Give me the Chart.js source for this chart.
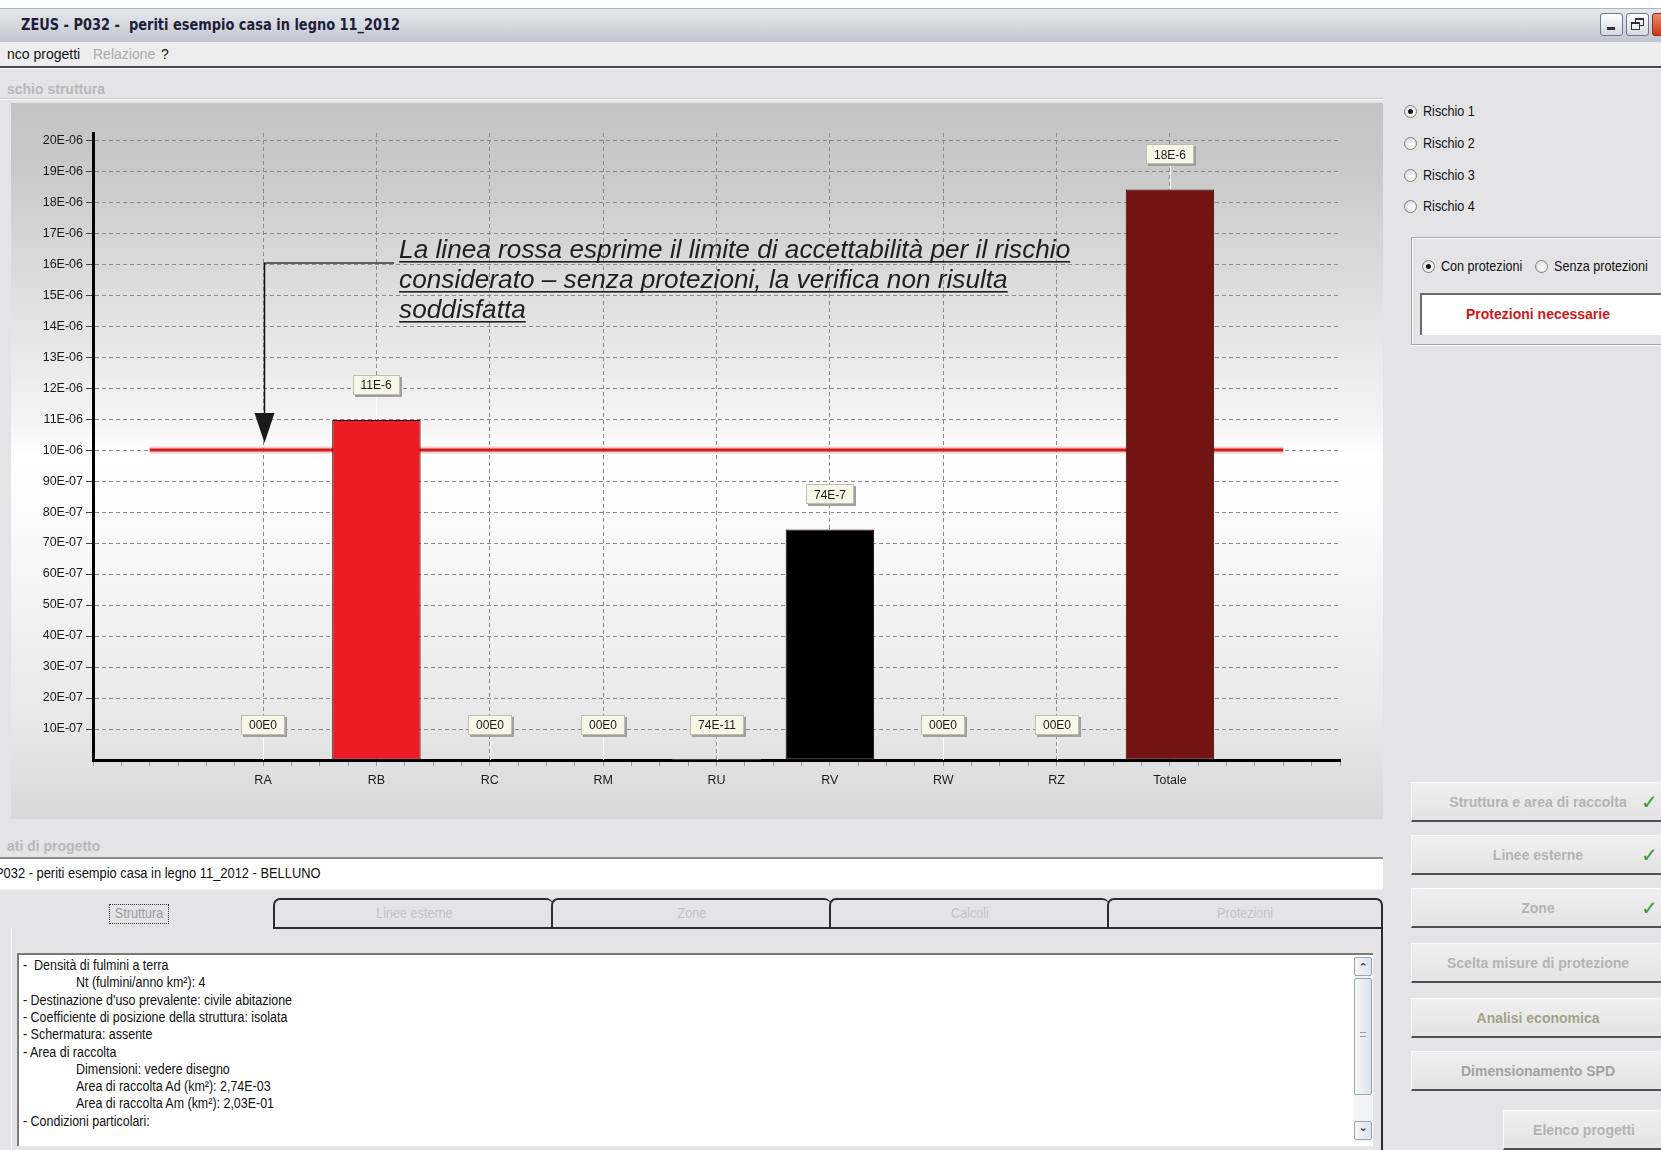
<!DOCTYPE html>
<html><head><meta charset="utf-8">
<script src="https://cdn.jsdelivr.net/npm/chart.js@4.4.1/dist/chart.umd.min.js"></script>
<style>
*{box-sizing:border-box}
html,body{margin:0;padding:0}
body{width:1661px;height:1150px;overflow:hidden;position:relative;background:#e4e4e7;font-family:'Liberation Sans',Arial,sans-serif;color:#111;font-size:14px}
.a{position:absolute;white-space:pre}
.nx{transform:scaleX(0.89);transform-origin:0 50%}
.nc{transform:scaleX(0.9);transform-origin:50% 50%}
#topstrip{left:0;top:0;width:1661px;height:8px;background:#fff}
#titlebar{left:0;top:8px;width:1661px;height:34px;background:linear-gradient(#e6e8ed,#d5d8df 50%,#c0c4cd);border-top:1px solid #b0b3bb}
#title{left:21px;top:8px;height:34px;font:bold 15px 'DejaVu Sans Condensed','DejaVu Sans',sans-serif;line-height:34px;color:#1e1e38;transform:scaleX(0.96);transform-origin:0 50%}
.wbtn{top:13px;width:23px;height:23px;border:1px solid #6f7a8a;border-radius:3px;background:linear-gradient(#ffffff,#d3d8e3)}
#menubar{left:0;top:42px;width:1661px;height:24px;background:#ededed}
.menu{top:45px;line-height:18px;font-size:14px}
#darkline{left:0;top:66px;width:1661px;height:2px;background:#4a4a4a}
.glabel{color:#b8b8b8;font-size:14px;font-weight:bold;line-height:18px}
#chartbox{left:11px;top:103px;width:1372px;height:716px}
.radio{width:13px;height:13px;border-radius:50%;border:1px solid #808080;background:radial-gradient(circle at 60% 60%,#ffffff 0%,#e6e6e6 60%,#cfcfcf 100%)}
.radio.on::after{content:'';position:absolute;left:3px;top:3px;width:5px;height:5px;border-radius:50%;background:#111}
.rtext{line-height:18px;font-size:14px;color:#111;transform:scaleX(0.9);transform-origin:0 50%}
.btn{left:1411px;width:260px;height:40px;background:linear-gradient(#f0f0f0,#e3e3e3);border-top:1px solid #fbfbfb;border-left:1px solid #fbfbfb;border-bottom:2px solid #4f4f4f}
.btnt{left:0;top:0;width:252px;height:38px;line-height:38px;text-align:center;font-weight:bold;font-size:14px}
.chk{left:229px;top:0;font:20px 'DejaVu Sans',sans-serif;line-height:38px;color:#3c9a3c}
.tab{top:898px;height:31px;border-top:2px solid #2c2c2c;border-left:2px solid #2c2c2c;border-bottom:2px solid #2c2c2c;border-radius:7px 7px 0 0;text-align:center;line-height:26px;color:#c2c2c2;font-size:14px}
.txt{line-height:17.3px;font-size:14px;color:#111}
</style></head>
<body>
<div class="a" id="topstrip"></div>
<div class="a" id="titlebar"></div>
<div class="a" id="title">ZEUS - P032 -  periti esempio casa in legno 11_2012</div>
<div class="a wbtn" style="left:1600px"><div class="a" style="left:6px;top:13px;width:8px;height:3px;background:#333"></div></div>
<div class="a wbtn" style="left:1626px"><div class="a" style="left:8px;top:4px;width:9px;height:8px;border:1px solid #333;border-top-width:2px"></div><div class="a" style="left:4px;top:8px;width:9px;height:8px;border:1px solid #333;border-top-width:2px;background:#eef0f5"></div></div>
<div class="a" style="left:1652px;top:13px;width:23px;height:23px;border-radius:3px;background:linear-gradient(#e88a6e,#c9381c);border:1px solid #8a2a18"></div>
<div class="a" id="menubar"></div>
<div class="a menu" style="left:7px">nco progetti</div>
<div class="a menu" style="left:93px;color:#ababab">Relazione</div>
<div class="a menu" style="left:161px">?</div>
<div class="a" id="darkline"></div>
<div class="a" style="left:0;top:68px;width:1661px;height:1px;background:#fafafa"></div>
<div class="a glabel" style="left:7px;top:80px">schio struttura</div>
<div class="a" style="left:0;top:98px;width:1383px;height:1px;background:#c9c9c9"></div>
<div class="a" style="left:0;top:99px;width:1383px;height:1px;background:#fbfbfb"></div>
<div class="a" id="chartbox"><canvas id="c" width="1372" height="716"></canvas></div>

<!-- right panel -->
<div class="a radio on" style="left:1404px;top:105px"></div><div class="a rtext" style="left:1423px;top:102px">Rischio 1</div>
<div class="a radio" style="left:1404px;top:137px"></div><div class="a rtext" style="left:1423px;top:134px">Rischio 2</div>
<div class="a radio" style="left:1404px;top:169px"></div><div class="a rtext" style="left:1423px;top:166px">Rischio 3</div>
<div class="a radio" style="left:1404px;top:200px"></div><div class="a rtext" style="left:1423px;top:197px">Rischio 4</div>
<div class="a" style="left:1411px;top:237px;width:260px;height:108px;border-top:1px solid #a8a8a8;border-left:1px solid #a8a8a8;border-bottom:1px solid #a8a8a8;box-shadow:inset 1px 1px 0 #fff, 0 1px 0 #fff"></div>
<div class="a radio on" style="left:1422px;top:260px"></div><div class="a rtext" style="left:1441px;top:257px">Con protezioni</div>
<div class="a radio" style="left:1535px;top:260px"></div><div class="a rtext" style="left:1554px;top:257px">Senza protezioni</div>
<div class="a" style="left:1420px;top:293px;width:250px;height:42px;background:#fff;border-top:2px solid #6a6a6a;border-left:2px solid #6a6a6a"></div>
<div class="a" style="left:1422px;top:295px;width:232px;height:38px;line-height:38px;text-align:center;color:#d01818;font-weight:bold;font-size:14px">Protezioni necessarie</div>

<div class="a btn" style="top:782px"><div class="a btnt" style="color:#b4b4b4">Struttura e area di raccolta</div><div class="a chk">✓</div></div>
<div class="a btn" style="top:835px"><div class="a btnt" style="color:#b4b4b4">Linee esterne</div><div class="a chk">✓</div></div>
<div class="a btn" style="top:888px"><div class="a btnt" style="color:#b4b4b4">Zone</div><div class="a chk">✓</div></div>
<div class="a btn" style="top:943px"><div class="a btnt" style="color:#b4b4b4">Scelta misure di protezione</div></div>
<div class="a btn" style="top:998px"><div class="a btnt" style="color:#a3a38c">Analisi economica</div></div>
<div class="a btn" style="top:1051px"><div class="a btnt" style="color:#a2a2a2">Dimensionamento SPD</div></div>
<div class="a btn" style="left:1503px;top:1110px;width:170px"><div class="a btnt" style="width:160px;color:#b4b4b4">Elenco progetti</div></div>

<!-- bottom left -->
<div class="a glabel" style="left:7px;top:837px">ati di progetto</div>
<div class="a" style="left:0;top:857px;width:1383px;height:2px;background:#8c8c8c"></div>
<div class="a" style="left:0;top:859px;width:1383px;height:30px;background:#fff"></div>
<div class="a" style="left:-5px;top:864px;line-height:18px;font-size:14px;transform:scaleX(0.92);transform-origin:0 50%">P032 - periti esempio casa in legno 11_2012 - BELLUNO</div>
<div class="a" style="left:0;top:889px;width:1383px;height:1px;background:#f4f4f4"></div>

<div class="a" style="left:11px;top:928px;width:1372px;height:222px;border-right:2px solid #2c2c2c;border-left:1px solid #fafafa"></div>
<div class="a" style="left:109px;top:904px;width:60px;height:20px;border:1px dotted #333;"></div>
<div class="a nc" style="left:109px;top:904px;width:60px;height:20px;text-align:center;line-height:19px;color:#9c9c9c;font-size:14px">Struttura</div>
<div class="a tab" style="left:273px;width:280px"><span class="nc" style="display:inline-block">Linee esterne</span></div>
<div class="a tab" style="left:551px;width:280px"><span class="nc" style="display:inline-block">Zone</span></div>
<div class="a tab" style="left:829px;width:280px"><span class="nc" style="display:inline-block">Calcoli</span></div>
<div class="a tab" style="left:1107px;width:276px;border-right:2px solid #2c2c2c"><span class="nc" style="display:inline-block">Protezioni</span></div>

<div class="a" style="left:17px;top:953px;width:1356px;height:193px;background:#fff;border-top:2px solid #7a7a7a;border-left:2px solid #7a7a7a"></div>
<div class="a txt nx" style="left:23px;top:957px">-  Densità di fulmini a terra</div>
<div class="a txt nx" style="left:76px;top:974.3px">Nt (fulmini/anno km²): 4</div>
<div class="a txt nx" style="left:23px;top:991.6px">- Destinazione d'uso prevalente: civile abitazione</div>
<div class="a txt nx" style="left:23px;top:1008.9px">- Coefficiente di posizione della struttura: isolata</div>
<div class="a txt nx" style="left:23px;top:1026.2px">- Schermatura: assente</div>
<div class="a txt nx" style="left:23px;top:1043.5px">- Area di raccolta</div>
<div class="a txt nx" style="left:76px;top:1060.8px">Dimensioni: vedere disegno</div>
<div class="a txt nx" style="left:76px;top:1078.1px">Area di raccolta Ad (km²): 2,74E-03</div>
<div class="a txt nx" style="left:76px;top:1095.4px">Area di raccolta Am (km²): 2,03E-01</div>
<div class="a txt nx" style="left:23px;top:1112.7px">- Condizioni particolari:</div>
<!-- scrollbar -->
<div class="a" style="left:1354px;top:957px;width:18px;height:185px;background:#f3f4f6"></div>
<div class="a" style="left:1354px;top:957px;width:18px;height:19px;border:1px solid #9aa3b3;border-radius:2px;background:linear-gradient(90deg,#f4f6fa,#dde3ee);font:bold 11px 'DejaVu Sans';line-height:20px;text-align:center;color:#333">⌃</div>
<div class="a" style="left:1354px;top:978px;width:18px;height:117px;border:1px solid #9aa3b3;border-radius:2px;background:linear-gradient(90deg,#f6f8fb,#dbe1ec)"><div class="a" style="left:5px;top:53px;width:6px;height:5px;border-top:1px solid #99a;border-bottom:1px solid #99a"></div></div>
<div class="a" style="left:1354px;top:1121px;width:18px;height:19px;border:1px solid #9aa3b3;border-radius:2px;background:linear-gradient(90deg,#f4f6fa,#dde3ee);font:bold 11px 'DejaVu Sans';line-height:12px;text-align:center;color:#333">⌄</div>

<script>
// ---- data ----
const categories = ['RA', 'RB', 'RC', 'RM', 'RU', 'RV', 'RW', 'RZ', 'Totale'];
const riskValues = [0, 1.097e-5, 0, 0, 7.4e-10, 7.44e-6, 0, 0, 1.841e-5];
const valueLabels = ['00E0', '11E-6', '00E0', '00E0', '74E-11', '74E-7', '00E0', '00E0', '18E-6'];
const barColors = ['#ed1c24', '#ed1c24', '#888888', '#888888', '#888888', '#000000', '#888888', '#888888', '#741313'];
const yTickLabels = ['10E-07','20E-07','30E-07','40E-07','50E-07','60E-07','70E-07','80E-07','90E-07','10E-06',
                     '11E-06','12E-06','13E-06','14E-06','15E-06','16E-06','17E-06','18E-06','19E-06','20E-06'];
const limitValue = 1e-5;
const limitSpan = [-1, 9];
const noteLines = ['La linea rossa esprime il limite di accettabilità per il rischio',
                   'considerato – senza protezioni, la verifica non risulta',
                   'soddisfatta'];
const arrowCategory = 0;
const arrowFrom = 1.6e-5;
const arrowTo = 1.023e-5;
const noteStart = 1.2, noteEnd = 7.12, noteBaseline = 1.619e-5;

const UNIT = 1e-6;
const FONT = "'Liberation Sans', Arial, sans-serif";

const inCat = (v) => Number.isInteger(v) && v >= 0 && v < categories.length;

const bgPlugin = {
  id: 'bg',
  beforeDraw(chart) {
    const { ctx, width, height } = chart;
    const g = ctx.createLinearGradient(0, 0, 0, height);
    g.addColorStop(0, '#c3c3c3');
    g.addColorStop(0.1, '#cacaca');
    g.addColorStop(0.45, '#f5f5f5');
    g.addColorStop(0.49, '#ffffff');
    g.addColorStop(0.56, '#fcfcfc');
    g.addColorStop(0.86, '#e8e8e8');
    g.addColorStop(1, '#d8d8d8');
    ctx.save(); ctx.fillStyle = g; ctx.fillRect(0, 0, width, height); ctx.restore();
  }
};

const notePlugin = {
  id: 'note',
  beforeDatasetsDraw(chart) {
    // soft halo under the limit line
    const { ctx, scales: { x, y } } = chart;
    const yy = y.getPixelForValue(limitValue);
    ctx.save();
    ctx.strokeStyle = 'rgba(220,60,60,0.25)'; ctx.lineWidth = 7;
    ctx.beginPath(); ctx.moveTo(x.getPixelForValue(limitSpan[0]), yy); ctx.lineTo(x.getPixelForValue(limitSpan[1]), yy); ctx.stroke();
    ctx.restore();
  },
  afterDatasetsDraw(chart) {
    const { ctx, scales: { x, y } } = chart;
    ctx.save();
    // value boxes
    ctx.font = '12px ' + FONT;
    const meta = chart.getDatasetMeta(0);
    meta.data.forEach((bar, i) => {
      const txt = valueLabels[i];
      const bx0 = Math.round(bar.x);
      const top = bar.y;
      const w = Math.round(ctx.measureText(txt).width) + 16, h = 20;
      const cy = top - 35;
      const bx = Math.round(bx0 - w / 2), by = Math.round(cy - h / 2);
      ctx.strokeStyle = '#ffffff'; ctx.lineWidth = 1;
      ctx.beginPath(); ctx.moveTo(bx0 + 0.5, by + h); ctx.lineTo(bx0 + 0.5, top); ctx.stroke();
      ctx.fillStyle = '#a0a0a0'; ctx.fillRect(bx + 2, by + 2, w, h);
      ctx.fillStyle = '#f7f7e8'; ctx.fillRect(bx, by, w, h);
      ctx.strokeStyle = '#bdbdb2'; ctx.strokeRect(bx + 0.5, by + 0.5, w - 1, h - 1);
      ctx.fillStyle = '#1a1a1a'; ctx.textAlign = 'center'; ctx.textBaseline = 'middle';
      ctx.fillText(txt, bx0, cy + 1);
    });
    // arrow
    const ax = Math.round(x.getPixelForValue(arrowCategory)) + 1.5;
    const yTop = Math.round(y.getPixelForValue(arrowFrom)) - 1;
    const yTip = y.getPixelForValue(arrowTo);
    const tx = x.getPixelForValue(noteStart);
    ctx.strokeStyle = '#5c5c5c'; ctx.lineWidth = 2;
    ctx.beginPath(); ctx.moveTo(ax - 1, yTop); ctx.lineTo(tx - 5, yTop); ctx.stroke();
    ctx.strokeStyle = '#111'; ctx.lineWidth = 1.5;
    ctx.beginPath(); ctx.moveTo(ax, yTop); ctx.lineTo(ax, yTip - 28); ctx.stroke();
    ctx.fillStyle = '#1a1a1a';
    ctx.beginPath(); ctx.moveTo(ax - 10, yTip - 30); ctx.lineTo(ax + 10, yTip - 30); ctx.lineTo(ax, yTip); ctx.closePath(); ctx.fill();
    // note text
    ctx.font = 'italic 25px ' + FONT;
    ctx.textAlign = 'left'; ctx.textBaseline = 'alphabetic';
    const target = x.getPixelForValue(noteEnd) - tx;
    const sx = target / ctx.measureText(noteLines[0]).width;
    const by0 = y.getPixelForValue(noteBaseline);
    noteLines.forEach((ln, k) => {
      const yy = by0 + k * 29.7;
      const wd = ctx.measureText(ln).width * sx;
      ctx.save(); ctx.translate(tx, yy); ctx.scale(sx, 1);
      ctx.fillStyle = '#1e1e1e'; ctx.fillText(ln, 0, 0); ctx.restore();
      ctx.fillStyle = '#1e1e1e'; ctx.fillRect(tx, Math.round(yy + 3), wd, 1.6);
    });
    ctx.restore();
  }
};

new Chart(document.getElementById('c'), {
  data: {
    datasets: [
      {
        type: 'bar', order: 0,
        data: riskValues.map((v, i) => ({ x: i, y: v })),
        backgroundColor: barColors,
        borderColor: '#2a0808',
        borderWidth: (c) => (c.raw && c.raw.y > 1e-8 ? 1 : 0),
        borderSkipped: false,
        // bar sample size is the 0.25 minor-tick spacing, so 3.12 of it = 0.78 of a category
        categoryPercentage: 1, barPercentage: 3.12
      },
      {
        type: 'line', order: 1,
        data: limitSpan.map(xv => ({ x: xv, y: limitValue })),
        borderColor: '#d41c1c', borderWidth: 3, pointRadius: 0, fill: false
      }
    ]
  },
  options: {
    responsive: false, animation: false, devicePixelRatio: 1,
    layout: { padding: { left: 0, top: 30, right: 43, bottom: 0 } },
    plugins: { legend: { display: false }, tooltip: { enabled: false } },
    scales: {
      x: {
        type: 'linear', min: -1.5, max: 9.5, offset: false, bounds: 'data',
        afterFit: (s) => { s.height = 59; },
        ticks: {
          stepSize: 0.25, includeBounds: true, autoSkip: false, maxRotation: 0, padding: 7,
          color: '#1a1a1a', font: { family: FONT, size: 12.5 },
          callback: (v) => (inCat(v) ? categories[v] : '')
        },
        grid: {
          offset: false,
          color: (c) => (c.tick && inCat(c.tick.value) ? '#8a8a8a' : 'rgba(0,0,0,0)'),
          tickColor: '#9a9a9a', tickLength: 6, lineWidth: 1,
        },
        border: { display: true, color: '#000', width: 3, dash: [4, 3] }
      },
      y: {
        min: 0, max: 2.023e-5, bounds: 'data',
        afterFit: (s) => { s.width = 82; },
        ticks: {
          stepSize: UNIT, includeBounds: false, padding: 3,
          color: '#1a1a1a', font: { family: FONT, size: 12.5 },
          callback: (v) => { const k = Math.round(v / UNIT) - 1; return k >= 0 ? yTickLabels[k] : ''; }
        },
        grid: {
          color: (c) => (c.tick && c.tick.value > 1e-9 ? '#8a8a8a' : 'rgba(0,0,0,0)'),
          tickColor: (c) => (c.tick && c.tick.value > 1e-9 ? '#444' : 'rgba(0,0,0,0)'),
          tickLength: 7
        },
        border: { display: true, color: '#000', width: 3, dash: [4, 3] }
      }
    }
  },
  plugins: [bgPlugin, notePlugin]
});
</script>
</body></html>
